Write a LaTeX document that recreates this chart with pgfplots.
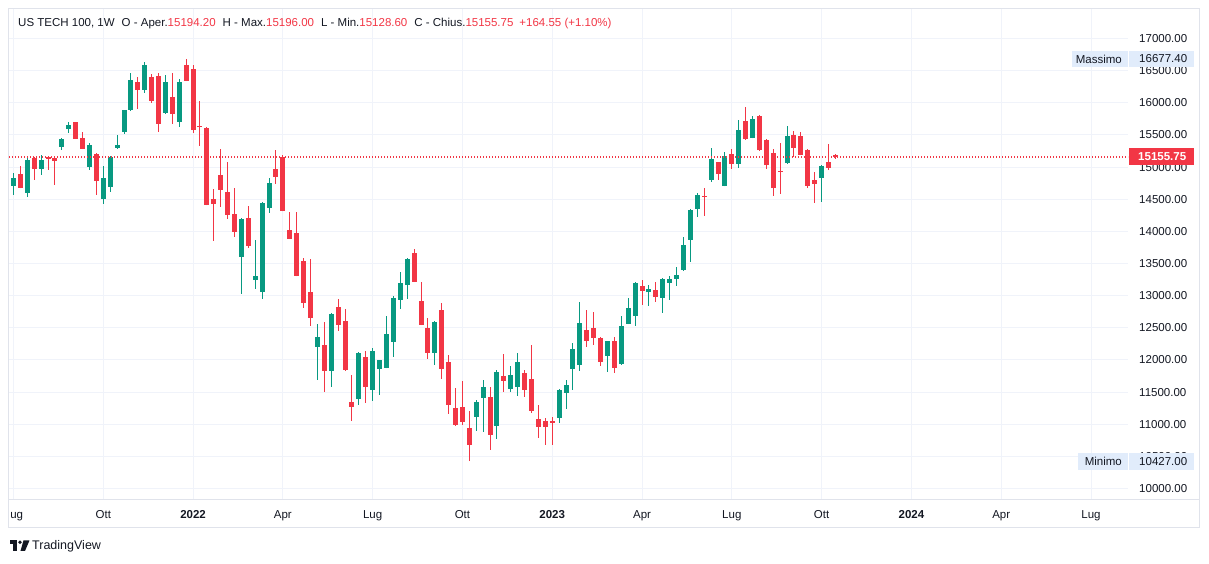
\documentclass[border=0pt]{standalone}
\usepackage{pgfplots}
\pgfplotsset{compat=1.18}
\usepackage{pgfplotstable}
\usepackage{fontspec}
\setmainfont{Liberation Sans}
\definecolor{tvgreen}{HTML}{089981}
\definecolor{tvred}{HTML}{F23645}
\definecolor{tvtext}{HTML}{131722}
\definecolor{tvgrid}{HTML}{F0F3FA}
\definecolor{tvframe}{HTML}{E0E3EB}
\definecolor{tvblue}{HTML}{E1ECFB}

% weekly candles, i = week index (0 = week of 5 Jul 2021)
\pgfplotstableread{
i o h l c
0 14710 14908 14566 14830
2 14601 15141 14539 15110
4 14975 15188 14881 15110
7 15317 15452 15270 15437
8 15592 15701 15530 15654
11 15006 15374 14959 15343
13 14508 15017 14430 14830
14 14695 15165 14617 15157
15 15301 15499 15286 15343
16 15550 15895 15519 15888
17 15888 16463 15872 16354
19 16204 16634 16157 16588
22 15846 16437 15830 16323
24 15706 16370 15628 16323
33 13606 14200 13030 14192
35 13248 13866 13108 13305
36 13061 14450 12952 14441
37 14368 14830 14290 14752
44 12206 12559 11692 12357
46 11832 12730 11583 12714
50 11397 12123 11303 12108
52 11537 12185 11366 12139
53 11863 12005 11459 11999
54 11879 12683 11870 12403
55 12283 12994 12050 12963
56 12937 13368 12797 13197
57 13170 13580 12952 13570
61 12112 12605 11926 12590
67 11117 11377 10899 11345
68 11412 11688 10883 11579
70 10977 11843 10775 11812
72 11552 11905 11506 11765
73 11583 12108 11443 11968
79 11101 11547 11023 11532
80 11490 11688 11241 11610
81 11863 12263 11537 12170
82 11926 12901 11832 12574
86 12066 12300 11817 12294
88 11941 12683 11926 12528
89 12563 12963 12555 12808
90 12688 13205 12532 13197
92 13052 13165 12843 13103
94 12968 13274 12734 13259
95 13201 13305 12937 13259
96 13263 13445 13155 13321
97 13403 13912 13388 13788
98 13870 14340 13528 14332
99 14352 14597 14228 14566
101 14799 15297 14768 15125
103 14706 15234 14700 15172
105 15048 15732 14986 15577
107 15452 15794 15445 15748
112 15063 15639 15055 15483
117 14830 15032 14457 15017
}\uptable

\pgfplotstableread{
i o h l c
1 14892 15017 14670 14679
3 15141 15150 14803 14975
5 15152 15172 14959 15130
6 15141 15150 14726 15099
9 15701 15705 15435 15441
10 15452 15546 15280 15286
12 15203 15219 14570 14788
18 16323 16401 15908 16204
20 16401 16448 16001 16032
21 16417 16463 15550 15675
23 16090 16463 15675 15830
25 16588 16677.4 16335 16344
26 16526 16588 15535 15581
27 15639 16028 15332 15623
28 15608 15623 14405 14415
29 14503 14659 13855 14430
30 14877 15281 14384 14648
31 14612 15079 14197 14259
32 14270 14674 13917 13995
34 14208 14394 13746 13777
38 14970 15265 14741 14850
39 15157 15188 14310 14321
40 14021 14301 13880 13886
41 13974 14301 13300 13310
42 13539 13586 12812 12890
43 13057 13570 12532 12657
45 12232 12590 11506 11832
47 12823 12948 12455 12548
48 12605 12792 11832 11848
49 11345 11765 11055 11272
51 12045 12139 11335 11583
58 13663 13726 13210 13217
59 12917 13212 12540 12548
60 12497 12652 12019 12112
62 12777 12885 11708 11863
63 11968 12077 11163 11303
64 11252 11563 10977 10992
65 11268 11672 10992 11039
66 10941 11205 10427 10681
69 11423 11579 10603 10837
71 11750 12092 11506 11677
74 11797 11843 11428 11537
75 11703 12232 11179 11210
76 11081 11299 10790 10961
77 11050 11096 10681 10961
78 11050 11112 10681 11023
83 12465 12777 12206 12299
84 12497 12746 12237 12346
85 12341 12357 11910 11972
87 12294 12357 11801 11879
91 13150 13243 12859 13077
93 13088 13212 12905 12983
100 14555 14674 14239 14539
102 15079 15085 14799 14892
104 15203 15281 14970 15048
106 15717 15934 15421 15437
108 15794 15810 15250 15265
109 15421 15437 14970 15032
110 15219 15281 14550 14674
111 14939 15374 14581 14928
113 15499 15561 15157 15297
114 15483 15546 15180 15188
115 15265 15281 14674 14706
116 14799 14923 14441 14737
118 15079 15359 14954 14991.2
119 15194.2 15196 15128.6 15155.75
}\downtable

\begin{document}
\begin{tikzpicture}[x=1pt,y=1pt]
\begin{axis}[
  name=ax, at={(0,0)}, anchor=south west, scale only axis,
  width=1119pt, height=491pt,
  xmin=-0.65, xmax=161.36, ymin=9820.9, ymax=17458.9,
  axis line style={draw=none}, tick style={draw=none},
  major tick length=0pt,
  xtick={0,13,...,156},
  xticklabels={\phantom{L}ug, Ott, \textbf{2022}, Apr, Lug, Ott, \textbf{2023}, Apr, Lug, Ott, \textbf{2024}, Apr, Lug},
  ytick={10000,10500,...,17000},
  yticklabel pos=right,
  scaled y ticks=false,
  tick label style={font=\fontsize{11.5}{13}\selectfont, text=tvtext},
  xticklabel style={anchor=base, yshift=-19pt},
  yticklabel style={anchor=west, inner sep=0pt, xshift=11pt,
    /pgf/number format/.cd, fixed, fixed zerofill, precision=2, 1000 sep={}, assume math mode=true},
  xmajorgrids, ymajorgrids,
  grid style={tvgrid, line width=1pt},
]
% wicks
\addplot[draw=none, mark=none, forget plot,
  error bars/.cd, y dir=plus, y explicit, error mark=none,
  error bar style={draw=tvgreen, line width=1pt}]
  table[x=i, y=l, y error expr=\thisrow{h}-\thisrow{l}] {\uptable};
\addplot[draw=none, mark=none, forget plot,
  error bars/.cd, y dir=plus, y explicit, error mark=none,
  error bar style={draw=tvred, line width=1pt}]
  table[x=i, y=l, y error expr=\thisrow{h}-\thisrow{l}] {\downtable};
% bodies
\addplot[draw=none, mark=none, forget plot,
  error bars/.cd, y dir=plus, y explicit, error mark=none,
  error bar style={draw=tvgreen, line width=5pt}]
  table[x=i, y=o, y error expr={max(\thisrow{c}-\thisrow{o},16)}] {\uptable};
\addplot[draw=none, mark=none, forget plot,
  error bars/.cd, y dir=plus, y explicit, error mark=none,
  error bar style={draw=tvred, line width=5pt}]
  table[x=i, y=c, y error expr={max(\thisrow{o}-\thisrow{c},16)}] {\downtable};
% last price line
\addplot[tvred, line width=1.1pt, dash pattern=on 1.2pt off 1.8pt, forget plot]
  coordinates {(-0.65,15155.75) (161.36,15155.75)};
\end{axis}

\pgfresetboundingbox
\begin{scope}[shift={(ax.south west)}]
\begin{scope}[shift={(-9,-64)}]
\path[use as bounding box] (0,0) rectangle (1209,564);

% frame
\draw[tvframe, line width=1pt] (9,64) -- (1199,64);
\draw[tvframe, line width=1pt] (9,36) rectangle (1199,555);

% header legend
\node[anchor=west, inner sep=0pt, font=\fontsize{11.5}{13}\selectfont, text=tvtext] at (18,540)
 {US TECH 100, 1W\hspace{7pt}O - Aper.\textcolor{tvred}{15194.20}\hspace{7pt}H - Max.\textcolor{tvred}{15196.00}\hspace{7pt}L - Min.\textcolor{tvred}{15128.60}\hspace{7pt}C - Chius.\textcolor{tvred}{15155.75}\hspace{6pt}\textcolor{tvred}{+164.55 (+1.10\%)}};

% price scale labels
\fill[tvblue] (1072,497) rectangle (1127.5,513);
\fill[tvblue] (1128.5,497) rectangle (1193.5,513);
\node[anchor=east, inner sep=0pt, font=\fontsize{11.5}{13}\selectfont, text=tvtext] at (1122,505) {Massimo};
\node[anchor=west, inner sep=0pt, font=\fontsize{11.5}{13}\selectfont, text=tvtext] at (1139,505) {16677.40};

\fill[tvred] (1129,398.5) rectangle (1194,415.5);
\node[anchor=west, inner sep=0pt, font=\fontsize{11.5}{13}\selectfont\bfseries, text=white] at (1138,407) {15155.75};

\fill[tvblue] (1078,94) rectangle (1127.5,111);
\fill[tvblue] (1128.5,94) rectangle (1193.5,111);
\node[anchor=east, inner sep=0pt, font=\fontsize{11.5}{13}\selectfont, text=tvtext] at (1122,102.5) {Minimo};
\node[anchor=west, inner sep=0pt, font=\fontsize{11.5}{13}\selectfont, text=tvtext] at (1139,102.5) {10427.00};

% TradingView mark
\fill[tvtext] (10,20) rectangle (17,23.5);
\fill[tvtext] (13,13) rectangle (17,23.5);
\fill[tvtext] (20,21.7) circle (1.8);
\fill[tvtext] (23.5,23.5) -- (29.5,23.5) -- (25,13) -- (20.5,13) -- cycle;
\node[anchor=west, inner sep=0pt, font=\fontsize{12.5}{14}\selectfont, text=tvtext] at (32,18) {TradingView};
\end{scope}
\end{scope}
\end{tikzpicture}
\end{document}
